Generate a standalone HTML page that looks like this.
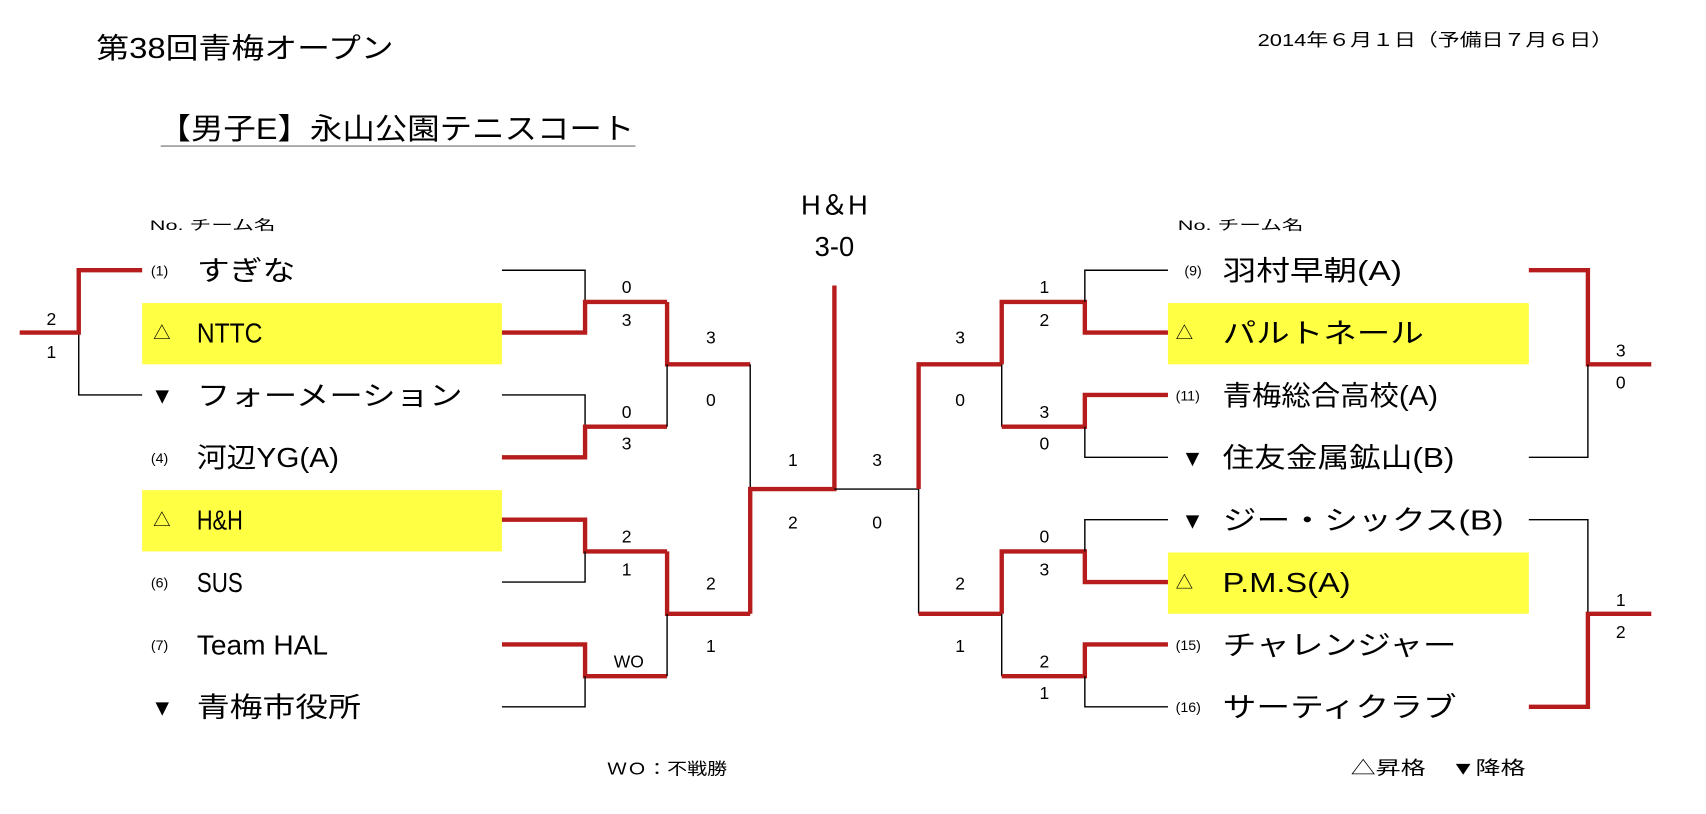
<!DOCTYPE html>
<html><head><meta charset="utf-8"><style>
html,body{margin:0;padding:0;background:#fff;}
svg{display:block;}
text{font-family:"Liberation Sans","Noto Sans CJK JP",sans-serif;fill:#000;}
.n{font-size:25px;}
.s{font-size:13px;}
.sc{font-size:16px;text-anchor:middle;}
.k{fill:none;stroke:#000;stroke-width:1.3;}
.r{fill:none;stroke:#b71c1c;stroke-width:4;}
.d{font-size:21px;}
</style></head><body>
<svg width="1706" height="814" viewBox="0 0 1560 744" preserveAspectRatio="none" xmlns="http://www.w3.org/2000/svg">
<text x="88" y="53" font-size="26" textLength="272" lengthAdjust="spacingAndGlyphs">第38回青梅オープン</text>
<text x="1150" y="42" font-size="16" textLength="325" lengthAdjust="spacingAndGlyphs">2014年６月１日（予備日７月６日）</text>
<text x="145" y="127" font-size="27" textLength="435" lengthAdjust="spacingAndGlyphs">【男子E】永山公園テニスコート</text>
<line x1="147" y1="133.5" x2="581" y2="133.5" stroke="#888" stroke-width="1.2"/>
<text x="137" y="210" class="s" textLength="115" lengthAdjust="spacingAndGlyphs">No.  チーム名</text>
<text x="1077" y="210" class="s" textLength="115" lengthAdjust="spacingAndGlyphs">No.  チーム名</text>

<rect x="130" y="277" width="329" height="56" fill="#ffff44"/>
<rect x="130" y="448" width="329" height="56" fill="#ffff44"/>
<rect x="1068" y="277" width="330" height="56" fill="#ffff44"/>
<rect x="1068" y="505" width="330" height="56" fill="#ffff44"/>

<text x="138" y="252" class="s">(1)</text><text x="180" y="256" class="n" textLength="90" lengthAdjust="spacingAndGlyphs">すぎな</text>
<text x="140" y="310" font-size="16">△</text><text x="180" y="313" class="n" textLength="60" lengthAdjust="spacingAndGlyphs">NTTC</text>
<text x="138" y="369" class="d">▼</text><text x="180" y="370" class="n" textLength="243" lengthAdjust="spacingAndGlyphs">フォーメーション</text>
<text x="138" y="423" class="s">(4)</text><text x="180" y="427" class="n" textLength="130" lengthAdjust="spacingAndGlyphs">河辺YG(A)</text>
<text x="140" y="481" font-size="16">△</text><text x="180" y="484" class="n" textLength="42" lengthAdjust="spacingAndGlyphs">H&amp;H</text>
<text x="138" y="537" class="s">(6)</text><text x="180" y="541" class="n" textLength="42" lengthAdjust="spacingAndGlyphs">SUS</text>
<text x="138" y="594" class="s">(7)</text><text x="180" y="598" class="n" textLength="120" lengthAdjust="spacingAndGlyphs">Team HAL</text>
<text x="138" y="654" class="d">▼</text><text x="180" y="655" class="n" textLength="150" lengthAdjust="spacingAndGlyphs">青梅市役所</text>

<text x="1083" y="252" class="s">(9)</text><text x="1118" y="256" class="n" textLength="164" lengthAdjust="spacingAndGlyphs">羽村早朝(A)</text>
<text x="1075" y="310" font-size="16">△</text><text x="1118" y="313" class="n" textLength="184" lengthAdjust="spacingAndGlyphs">パルトネール</text>
<text x="1075" y="366" class="s">(11)</text><text x="1118" y="370" class="n" textLength="197" lengthAdjust="spacingAndGlyphs">青梅総合高校(A)</text>
<text x="1080" y="426" class="d">▼</text><text x="1118" y="427" class="n" textLength="212" lengthAdjust="spacingAndGlyphs">住友金属鉱山(B)</text>
<text x="1080" y="483" class="d">▼</text><text x="1118" y="484" class="n" textLength="257" lengthAdjust="spacingAndGlyphs">ジー・シックス(B)</text>
<text x="1075" y="538" font-size="16">△</text><text x="1118" y="541" class="n" textLength="117" lengthAdjust="spacingAndGlyphs">P.M.S(A)</text>
<text x="1075" y="594" class="s">(15)</text><text x="1118" y="598" class="n" textLength="214" lengthAdjust="spacingAndGlyphs">チャレンジャー</text>
<text x="1075" y="651" class="s">(16)</text><text x="1118" y="655" class="n" textLength="214" lengthAdjust="spacingAndGlyphs">サーティクラブ</text>

<text x="763" y="196" font-size="25" text-anchor="middle">H＆H</text>
<text x="763" y="234" font-size="25" text-anchor="middle">3-0</text>

<path class="k" d="M72 304 V361 H130"/>
<path class="r" d="M18 304 H72 V247 H130"/>
<text x="47" y="297" class="sc">2</text><text x="47" y="327" class="sc">1</text>

<path class="k" d="M459 247 H535 V276"/>
<path class="r" d="M459 304 H535 V276 H610"/>
<path class="k" d="M459 361 H535 V390"/>
<path class="r" d="M459 418 H535 V390 H610"/>
<path class="r" d="M459 475 H535 V504 H610"/>
<path class="k" d="M459 532 H535 V504"/>
<path class="r" d="M459 589 H535 V618 H610"/>
<path class="k" d="M459 646 H535 V618"/>
<text x="573" y="268" class="sc">0</text><text x="573" y="298" class="sc">3</text>
<text x="573" y="382" class="sc">0</text><text x="573" y="411" class="sc">3</text>
<text x="573" y="496" class="sc">2</text><text x="573" y="526" class="sc">1</text>
<text x="575" y="610" class="sc">WO</text>
<path class="r" d="M610 276 V333 H686"/>
<path class="k" d="M610 390 V333"/>
<path class="r" d="M610 504 V561 H686"/>
<path class="k" d="M610 618 V561"/>
<text x="650" y="314" class="sc">3</text><text x="650" y="371" class="sc">0</text>
<text x="650" y="539" class="sc">2</text><text x="650" y="596" class="sc">1</text>
<path class="k" d="M686 333 V447"/>
<path class="r" d="M686 561 V447 H763 V261"/>
<text x="725" y="426" class="sc">1</text><text x="725" y="483" class="sc">2</text>
<path class="k" d="M763 447 H840 V561"/>
<text x="802" y="426" class="sc">3</text><text x="802" y="483" class="sc">0</text>
<path class="r" d="M840 447 V333 H916"/>
<path class="r" d="M840 561 H916"/>
<text x="878" y="314" class="sc">3</text><text x="878" y="371" class="sc">0</text>
<text x="878" y="539" class="sc">2</text><text x="878" y="596" class="sc">1</text>
<path class="r" d="M916 333 V276 H992 V304 H1068"/>
<path class="k" d="M992 276 V247 H1068"/>
<path class="k" d="M916 333 V390"/>
<path class="r" d="M916 390 H992 V361 H1068"/>
<path class="k" d="M992 390 V418 H1068"/>
<path class="r" d="M916 561 V504 H992 V532 H1068"/>
<path class="k" d="M992 504 V475 H1068"/>
<path class="k" d="M916 561 V618"/>
<path class="r" d="M916 618 H992 V589 H1068"/>
<path class="k" d="M992 618 V646 H1068"/>
<text x="955" y="268" class="sc">1</text><text x="955" y="298" class="sc">2</text>
<text x="955" y="382" class="sc">3</text><text x="955" y="411" class="sc">0</text>
<text x="955" y="496" class="sc">0</text><text x="955" y="526" class="sc">3</text>
<text x="955" y="610" class="sc">2</text><text x="955" y="639" class="sc">1</text>
<path class="r" d="M1398 247 H1452 V333 H1510"/>
<path class="k" d="M1452 333 V418 H1398"/>
<path class="k" d="M1398 475 H1452 V561"/>
<path class="r" d="M1398 646 H1452 V561 H1510"/>
<text x="1482" y="326" class="sc">3</text><text x="1482" y="355" class="sc">0</text>
<text x="1482" y="554" class="sc">1</text><text x="1482" y="583" class="sc">2</text>

<text x="555" y="708" font-size="15" textLength="110" lengthAdjust="spacingAndGlyphs">ＷＯ：不戦勝</text>
<text x="1235" y="708" font-size="17" textLength="160" lengthAdjust="spacingAndGlyphs">△昇格　▼降格</text>
</svg>
</body></html>
